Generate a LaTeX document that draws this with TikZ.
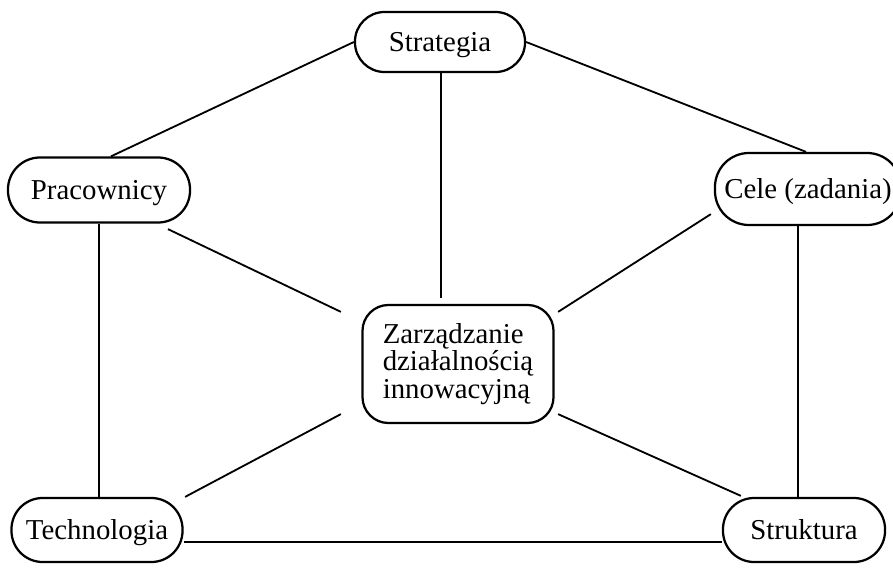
\documentclass[tikz,border=0pt]{standalone}
\usepackage{fontspec}
\setmainfont{Liberation Serif}
\usetikzlibrary{calc}
\begin{document}
\begin{tikzpicture}[x=0.025cm,y=-0.025cm,
  box/.style={draw,line width=1.6pt,inner sep=0pt,
    font=\fontsize{20.5}{19.5}\selectfont},
  pill/.style={box,text height=13.6pt,text depth=0pt},
  link/.style={line width=1.3pt}]
\useasboundingbox (0,0) rectangle (893,570);
\node[pill,rounded corners=0.74cm,minimum width=4.25cm,minimum height=1.5cm] (S) at (440,42) {Strategia};
\node[pill,rounded corners=0.8cm,minimum width=4.55cm,minimum height=1.625cm] (P) at (99,190) {Pracownicy};
\node[pill,rounded corners=0.85cm,minimum width=4.65cm,minimum height=1.8cm] (C) at (808,189) {Cele (zadania)};
\node[box,minimum width=4.775cm,minimum height=2.95cm,rounded corners=0.65cm,align=left] (Z) at (458,364) {Zarządzanie\\działalnością\\innowacyjną};
\node[pill,rounded corners=0.78cm,minimum width=4.275cm,minimum height=1.6cm] (T) at (97,530) {Technologia};
\node[pill,rounded corners=0.78cm,minimum width=4.05cm,minimum height=1.6cm] (R) at (804,530) {Struktura};
\coordinate (cr) at ($(C.south)+(-10,0)$);
\coordinate (sv) at ($(S.south)+(1,0)$);
\draw[link] (S.west) -- ($(P.north)+(12,0)$);
\draw[link] (S.east) -- ($(C.north)+(-2,0)$);
\draw[link,shorten >=4pt] (sv) -- (sv |- Z.north);
\draw[link] ($(P.south)+(69,5.5)$) -- ($(Z.north west)+(-20.5,8)$);
\draw[link] ($(C.south west)+(-3,-12)$) -- ($(Z.north east)+(3.5,8)$);
\draw[link] ($(Z.south west)+(-20.5,-10)$) -- ($(T.north east)+(1.5,0)$);
\draw[link] ($(Z.south east)+(3.5,-10)$) -- ($(R.north west)+(19,-1)$);
\draw[link] (P.south) -- (P.south |- T.north);
\draw[link] (cr) -- (cr |- R.north);
\draw[link] ($(T.east)+(0,12)$) -- ($(R.west)+(0,12)$);
\end{tikzpicture}
\end{document}
